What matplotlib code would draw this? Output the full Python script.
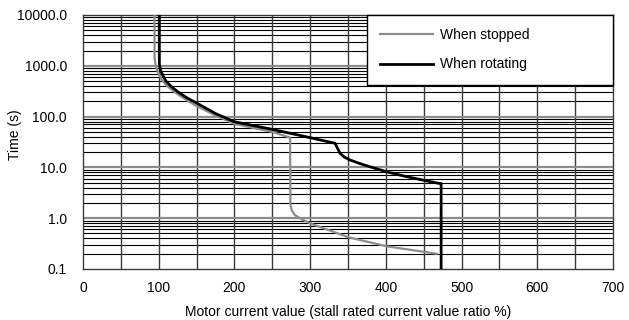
import numpy as np
from matplotlib import pyplot as plt

plt.rcParams['font.family'] = ['Liberation Sans', 'DejaVu Sans']

# curve readings: motor current (%) vs time (s)
stopped_x = [94.5, 94.5, 95.0, 96.0, 97.5, 100.0, 102.0, 104.0, 110.0, 117.0, 125.0,
             137.0, 150.0, 175.0, 200.0, 225.0, 250.0, 273.5, 274.0, 274.5, 276.0,
             280.0, 286.5, 300.0, 325.0, 351.0, 401.0, 467.0]
stopped_y = [10000, 1500, 1250, 1050, 850, 700, 615, 525, 415, 340, 277,
             210, 162, 105, 72, 60, 50, 38.5, 1.9, 1.7, 1.4,
             1.15, 1.0, 0.79, 0.58, 0.42, 0.28, 0.20]

rotating_x = [100.8, 100.8, 101.5, 102.5, 104.0, 107.0, 110.0, 117.0, 125.0, 137.0,
              150.0, 175.0, 200.0, 250.0, 300.0, 333.0, 336.0, 339.5, 345.0, 352.7,
              365.0, 379.0, 401.0, 425.0, 452.0, 470.0, 473.0, 473.0]
rotating_y = [10000, 1130, 950, 820, 720, 580, 490, 385, 310, 235,
              185, 115, 79, 56, 38.5, 29.8, 24.0, 19.0, 16.0, 14.0,
              12.0, 10.3, 8.2, 6.7, 5.5, 4.85, 4.85, 0.1]

x_ticks = [0, 100, 200, 300, 400, 500, 600, 700]
y_ticks = [0.1, 1, 10, 100, 1000, 10000]
y_tick_labels = ['0.1', '1.0', '10.0', '100.0', '1000.0', '10000.0']

fig = plt.figure(figsize=(6.29, 3.2), dpi=100)
ax = fig.add_axes([83 / 629, 1 - 269 / 320, 530 / 629, 254 / 320])

ax.set_yscale('log')
ax.set_xlim(0, 700)
ax.set_ylim(0.1, 10000)

# grid drawn by hand so the decade lines can be grey and the minor ones black
for dec in [0.1, 1, 10, 100, 1000]:
    for m in range(2, 10):
        ax.axhline(dec * m, color='black', lw=0.8, zorder=1)
for dec in [1, 10, 100, 1000]:
    ax.axhline(dec, color='#8c8c8c', lw=1.6, zorder=1.2)
for xv in range(50, 700, 50):
    ax.axvline(xv, color='#3a3a3a', lw=1.0, zorder=1.1)

ax.plot(stopped_x, stopped_y, color='#8c8c8c', lw=1.6, label='When stopped', zorder=3)
ax.plot(rotating_x, rotating_y, color='black', lw=2.0, label='When rotating', zorder=4)

ax.set_xticks(x_ticks)
ax.set_yticks(y_ticks)
ax.set_yticklabels(y_tick_labels)
ax.yaxis.set_minor_locator(plt.NullLocator())
ax.tick_params(length=0, labelsize=10)
ax.tick_params(axis='x', pad=9)
ax.tick_params(axis='y', pad=11.5)

for sp in ax.spines.values():
    sp.set_color('#3a3a3a')
    sp.set_linewidth(1.0)

ax.set_xlabel('Motor current value (stall rated current value ratio %)', fontsize=10, labelpad=7)
ax.set_ylabel('Time (s)', fontsize=10)
ax.yaxis.set_label_coords(-0.115, 0.528)

leg = ax.legend(loc='upper left', bbox_to_anchor=(0.536, 1.0, 0.464, 0.0), mode='expand',
                borderaxespad=0, fancybox=False, edgecolor='black', framealpha=1,
                fontsize=10, handlelength=3.8, labelspacing=1.1, borderpad=0.95,
                handletextpad=0.5)
leg.get_frame().set_linewidth(1.0)
leg.set_zorder(10)

fig.savefig('out.png', dpi=100)
